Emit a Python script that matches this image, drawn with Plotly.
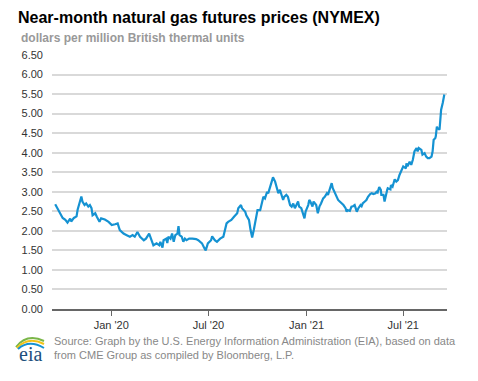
import plotly.graph_objects as go

dates = [
    "2019-09-18", "2019-09-23", "2019-09-26", "2019-10-02", "2019-10-07", "2019-10-11",
    "2019-10-16", "2019-10-18", "2019-10-23", "2019-10-28", "2019-10-30", "2019-11-04",
    "2019-11-06", "2019-11-08", "2019-11-12", "2019-11-15", "2019-11-19", "2019-11-22",
    "2019-11-25", "2019-11-27", "2019-12-02", "2019-12-05", "2019-12-10", "2019-12-13",
    "2019-12-20", "2019-12-27", "2020-01-02", "2020-01-08", "2020-01-13", "2020-01-17",
    "2020-01-24", "2020-01-30", "2020-02-05", "2020-02-10", "2020-02-14", "2020-02-19",
    "2020-02-24", "2020-03-02", "2020-03-06", "2020-03-12", "2020-03-16", "2020-03-20",
    "2020-03-26", "2020-03-31", "2020-04-02", "2020-04-06", "2020-04-08", "2020-04-13",
    "2020-04-15", "2020-04-17", "2020-04-21", "2020-04-24", "2020-04-27", "2020-04-30",
    "2020-05-04", "2020-05-06", "2020-05-08", "2020-05-12", "2020-05-15", "2020-05-18",
    "2020-05-21", "2020-05-26", "2020-06-01", "2020-06-08", "2020-06-12", "2020-06-19",
    "2020-06-23", "2020-06-26", "2020-06-30", "2020-07-06", "2020-07-08", "2020-07-13",
    "2020-07-17", "2020-07-23", "2020-07-29", "2020-07-31", "2020-08-04", "2020-08-07",
    "2020-08-13", "2020-08-18", "2020-08-24", "2020-08-26", "2020-08-31", "2020-09-02",
    "2020-09-08", "2020-09-10", "2020-09-15", "2020-09-18", "2020-09-21", "2020-09-24",
    "2020-09-28", "2020-10-01", "2020-10-06", "2020-10-09", "2020-10-12", "2020-10-15",
    "2020-10-19", "2020-10-21", "2020-10-23", "2020-10-27", "2020-10-30", "2020-11-03",
    "2020-11-06", "2020-11-09", "2020-11-12", "2020-11-16", "2020-11-18", "2020-11-20",
    "2020-11-24", "2020-11-27", "2020-12-01", "2020-12-04", "2020-12-07", "2020-12-10",
    "2020-12-14", "2020-12-16", "2020-12-18", "2020-12-22", "2020-12-28", "2020-12-30",
    "2021-01-04", "2021-01-06", "2021-01-08", "2021-01-12", "2021-01-14", "2021-01-19",
    "2021-01-22", "2021-01-25", "2021-01-28", "2021-02-01", "2021-02-04", "2021-02-08",
    "2021-02-10", "2021-02-12", "2021-02-17", "2021-02-19", "2021-02-23", "2021-02-26",
    "2021-03-01", "2021-03-04", "2021-03-08", "2021-03-11", "2021-03-15", "2021-03-17",
    "2021-03-19", "2021-03-23", "2021-03-26", "2021-03-29", "2021-04-01", "2021-04-05",
    "2021-04-08", "2021-04-12", "2021-04-14", "2021-04-16", "2021-04-20", "2021-04-23",
    "2021-04-26", "2021-04-30", "2021-05-03", "2021-05-06", "2021-05-10", "2021-05-12",
    "2021-05-14", "2021-05-17", "2021-05-20", "2021-05-21", "2021-05-25", "2021-05-27",
    "2021-06-01", "2021-06-02", "2021-06-07", "2021-06-08", "2021-06-11", "2021-06-15",
    "2021-06-18", "2021-06-21", "2021-06-24", "2021-06-28", "2021-07-01", "2021-07-06",
    "2021-07-07", "2021-07-09", "2021-07-13", "2021-07-16", "2021-07-19", "2021-07-22",
    "2021-07-26", "2021-07-28", "2021-07-30", "2021-08-04", "2021-08-06", "2021-08-10",
    "2021-08-13", "2021-08-16", "2021-08-19", "2021-08-23", "2021-08-25", "2021-08-27",
    "2021-08-30", "2021-08-31", "2021-09-02", "2021-09-03", "2021-09-07", "2021-09-08",
    "2021-09-09", "2021-09-10", "2021-09-13", "2021-09-14", "2021-09-16",
]

prices = [
    2.68, 2.54, 2.50, 2.33, 2.28, 2.21,
    2.31, 2.24, 2.33, 2.37, 2.54, 2.79,
    2.88, 2.75, 2.66, 2.70, 2.62, 2.66,
    2.58, 2.40, 2.45, 2.36, 2.23, 2.32,
    2.29, 2.23, 2.15, 2.17, 2.19, 2.02,
    1.93, 1.89, 1.85, 1.89, 1.85, 1.97,
    1.85, 1.76, 1.80, 1.93, 1.80, 1.63,
    1.68, 1.63, 1.72, 1.57, 1.76, 1.80,
    1.69, 1.85, 1.80, 1.93, 1.72, 1.89,
    1.93, 2.12, 1.89, 1.85, 1.72, 1.80,
    1.76, 1.80, 1.80, 1.79, 1.76, 1.68,
    1.57, 1.50, 1.68, 1.76, 1.86, 1.76,
    1.72, 1.80, 1.85, 1.97, 2.19, 2.23,
    2.28, 2.36, 2.45, 2.58, 2.66, 2.58,
    2.49, 2.40, 2.28, 2.02, 1.83, 2.02,
    2.28, 2.53, 2.53, 2.70, 2.87, 2.83,
    3.00, 2.96, 3.05, 3.17, 3.37, 3.26,
    3.09, 2.96, 3.05, 2.87, 2.79, 2.87,
    2.92, 2.87, 2.66, 2.62, 2.70, 2.58,
    2.70, 2.75, 2.62, 2.58, 2.32, 2.49,
    2.66, 2.79, 2.75, 2.62, 2.75, 2.66,
    2.45, 2.62, 2.70, 2.83, 2.87, 2.96,
    2.92, 3.00, 3.22, 3.09, 2.96, 2.87,
    2.79, 2.75, 2.70, 2.66, 2.58, 2.49,
    2.53, 2.51, 2.62, 2.63, 2.66, 2.49,
    2.58, 2.66, 2.63, 2.70, 2.75, 2.79,
    2.87, 2.94, 2.96, 2.94, 2.96, 3.00,
    2.98, 3.12, 3.05, 2.92, 2.92, 2.75,
    3.05, 3.09, 3.06, 3.17, 3.13, 3.32,
    3.26, 3.30, 3.43, 3.56, 3.65, 3.60,
    3.73, 3.65, 3.77, 3.69, 3.82, 4.03,
    4.12, 4.03, 4.12, 4.07, 3.95, 3.99,
    3.90, 3.86, 3.86, 3.90, 4.03, 4.33,
    4.37, 4.42, 4.67, 4.63, 4.59, 4.85,
    5.06, 5.10, 5.27, 5.40, 5.49,
]

tick_dates = ["2020-01-01", "2020-07-01", "2021-01-01", "2021-07-01"]
tick_labels = ["Jan '20", "Jul '20", "Jan '21", "Jul '21"]
y_ticks = [0.0, 0.5, 1.0, 1.5, 2.0, 2.5, 3.0, 3.5, 4.0, 4.5, 5.0, 5.5, 6.0, 6.5]

# the page body adds an 8px margin, so the figure is drawn 8px smaller
OFF = 8
W, H = 478 - OFF, 381 - OFF
ML, MT = 52 - OFF, 55 - OFF
MR = W - (447 - OFF)
MB = H - (309 - OFF)
PW, PH = W - ML - MR, H - MT - MB


def px(x):
    return (x - OFF - ML) / PW


def py(y):
    return 1 - (y - OFF - MT) / PH


fig = go.Figure()
fig.add_trace(go.Scatter(
    x=dates, y=prices, mode="lines",
    line=dict(color="#1592d2", width=2.2),
    hoverinfo="x+y", showlegend=False,
))

fig.update_layout(
    width=W, height=H,
    margin=dict(l=ML, r=MR, t=MT, b=MB, pad=0),
    paper_bgcolor="white", plot_bgcolor="white",
    font=dict(family="Liberation Sans, Arial, sans-serif", color="#333333"),
    xaxis=dict(
        range=["2019-09-12", "2021-09-21"],
        tickvals=tick_dates, ticktext=tick_labels,
        showgrid=False, showline=True, linecolor="#666666", linewidth=1.5,
        ticks="outside", ticklen=5, tickcolor="#666666", tickwidth=1,
        tickfont=dict(size=11, color="#333333"),
        zeroline=False,
    ),
    yaxis=dict(
        range=[0, 6.5],
        tickvals=y_ticks, tickformat=".2f",
        showgrid=True, gridcolor="#d9d9d9", gridwidth=1.5,
        zeroline=False, showline=False, ticks="",
        tickfont=dict(size=11, color="#333333"),
        ticklabelstandoff=8,
    ),
)

fig.add_annotation(
    text="<b>Near-month natural gas futures prices (NYMEX)</b>",
    xref="paper", yref="paper", x=px(16), y=py(7), xanchor="left", yanchor="top",
    showarrow=False, font=dict(size=16, color="#000000"),
)
fig.add_annotation(
    text="<b>dollars per million British thermal units</b>",
    xref="paper", yref="paper", x=px(19), y=py(29), xanchor="left", yanchor="top",
    showarrow=False, font=dict(size=12, color="#999999"),
)
fig.add_annotation(
    text="Source: Graph by the U.S. Energy Information Administration (EIA), based on data<br>from CME Group as compiled by Bloomberg, L.P.",
    xref="paper", yref="paper", x=px(52), y=py(333), xanchor="left", yanchor="top",
    align="left", showarrow=False, font=dict(size=11, color="#888888"),
)
# EIA logo
fig.add_annotation(
    text="eia",
    xref="paper", yref="paper", x=px(30), y=py(354), xanchor="center", yanchor="middle",
    showarrow=False, font=dict(size=20, color="#1d4f7c", family="Liberation Serif, serif"),
)
arcs = [
    ((16, 347), (27, 333), (44, 341), "#7ab648"),
    ((17, 348), (28, 336), (44, 344), "#f2c318"),
    ((18, 349), (29, 339), (44, 348), "#1592d2"),
]
for (x0, y0), (cx, cy), (x1, y1), col in arcs:
    fig.add_shape(
        type="path", xref="paper", yref="paper",
        path=f"M {px(x0)} {py(y0)} Q {px(cx)} {py(cy)} {px(x1)} {py(y1)}",
        line=dict(color=col, width=2),
    )

fig.write_html("out.html")
